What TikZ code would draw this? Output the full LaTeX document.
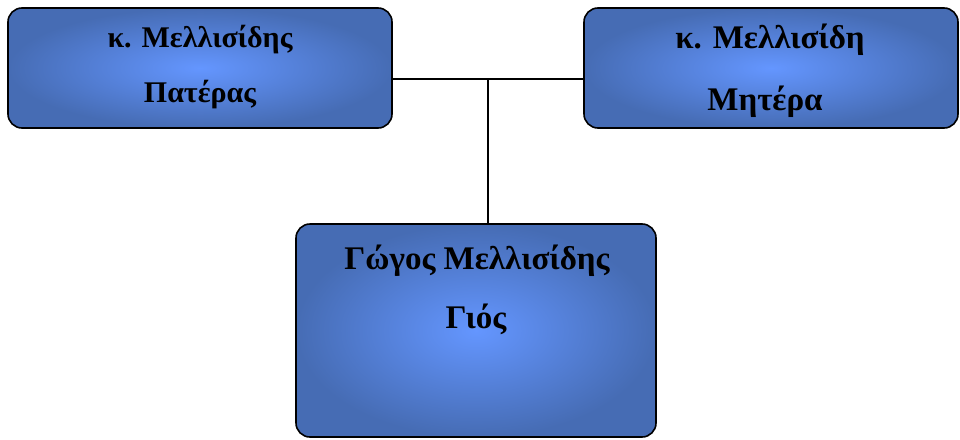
\documentclass[tikz,border=0pt]{standalone}
\usepackage{fontspec}
\setmainfont{Liberation Serif}
\definecolor{boxin}{RGB}{100,150,255}
\definecolor{boxout}{RGB}{70,108,180}
\begin{document}
\begin{tikzpicture}[x=1pt,y=-1pt]
\tikzset{
  famboxstyle/.style={draw=black, line width=1.6pt, rounded corners=14pt,
    shading=radial, inner color=boxin, outer color=boxout, inner sep=0pt},
  famtext/.style={anchor=base, font=\fontsize{30}{34}\selectfont\bfseries, inner sep=0pt},
  famtextbig/.style={famtext, font=\fontsize{33}{37}\selectfont\bfseries},
  link/.style={draw=black, line width=1.3pt}
}
\useasboundingbox (0,0) rectangle (960,439);
\node[famboxstyle, minimum width=384pt, minimum height=120pt] (f) at (200,68) {};
\node[famboxstyle, minimum width=374pt, minimum height=120pt] (m) at (771,68) {};
\node[famboxstyle, minimum width=360pt, minimum height=213pt] (s) at (476,330.5) {};
\node[famtext] (f1) at (200,47) {κ. Μελλισίδης};
\node[famtext] (f2) at (200,102) {Πατέρας};
\node[famtextbig] (m1) at (770,48) {κ. Μελλισίδη};
\node[famtextbig] (m2) at (765,110) {Μητέρα};
\node[famtextbig] (s1) at (477,269) {Γώγος Μελλισίδης};
\node[famtextbig] (s2) at (476,328) {Γιός};
\coordinate (j) at (488,79);
\draw[link] (f.east |- j) -- (m.west |- j);
\draw[link] (j) -- (s.north -| j);
\end{tikzpicture}
\end{document}
